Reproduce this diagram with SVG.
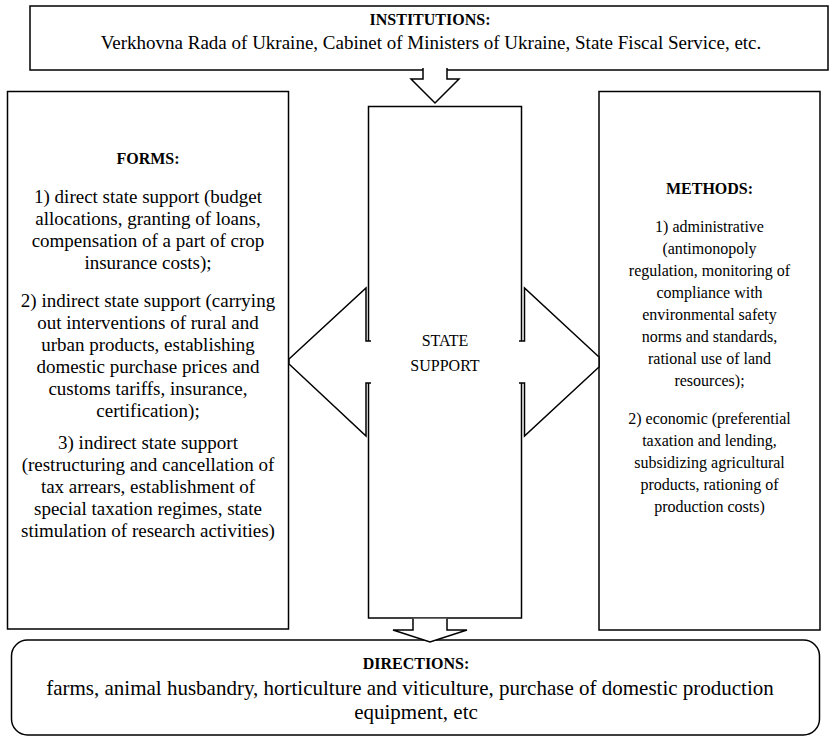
<svg xmlns="http://www.w3.org/2000/svg" width="832" height="738" viewBox="0 0 832 738">
<style>
.box{fill:#fff;stroke:#000;stroke-width:1.5}
.arr{fill:#fff;stroke:#000;stroke-width:1.5;stroke-linejoin:miter}
text{font-family:"Liberation Serif","Times New Roman",serif;fill:#000;text-anchor:middle}
.t16{font-size:16px}
.t19{font-size:19px}
.t21{font-size:21px}
.b{font-weight:bold}
</style>
<rect width="832" height="738" fill="#fff"/>
<g id="institutions">
<rect class="box" x="30" y="6" width="798" height="64"/>
<text class="t16 b" x="430" y="25">INSTITUTIONS:</text>
<text class="t19" x="431" y="49">Verkhovna Rada of Ukraine, Cabinet of Ministers of Ukraine, State Fiscal Service, etc.</text>
</g>
<g id="forms">
<rect class="box" x="7.5" y="91.5" width="281" height="537.5"/>
<text class="t16 b" x="148" y="164">FORMS:</text>
<text class="t19"><tspan x="148" y="203">1) direct state support (budget</tspan><tspan x="148" y="225">allocations, granting of loans,</tspan><tspan x="148" y="247">compensation of a part of crop</tspan><tspan x="148" y="269">insurance costs);</tspan><tspan x="148" y="307">2) indirect state support (carrying</tspan><tspan x="148" y="329">out interventions of rural and</tspan><tspan x="148" y="351">urban products, establishing</tspan><tspan x="148" y="373">domestic purchase prices and</tspan><tspan x="148" y="395">customs tariffs, insurance,</tspan><tspan x="148" y="417">certification);</tspan><tspan x="148" y="449">3) indirect state support</tspan><tspan x="148" y="471">(restructuring and cancellation of</tspan><tspan x="148" y="493">tax arrears, establishment of</tspan><tspan x="148" y="515">special taxation regimes, state</tspan><tspan x="148" y="537">stimulation of research activities)</tspan></text>
</g>
<g id="methods">
<rect class="box" x="599" y="91.5" width="221" height="538.5"/>
<text class="t16 b" x="709.5" y="194">METHODS:</text>
<text class="t16"><tspan x="709.5" y="232">1) administrative</tspan><tspan x="709.5" y="254">(antimonopoly</tspan><tspan x="709.5" y="276">regulation, monitoring of</tspan><tspan x="709.5" y="298">compliance with</tspan><tspan x="709.5" y="320">environmental safety</tspan><tspan x="709.5" y="342">norms and standards,</tspan><tspan x="709.5" y="364">rational use of land</tspan><tspan x="709.5" y="386">resources);</tspan><tspan x="709.5" y="424">2) economic (preferential</tspan><tspan x="709.5" y="446">taxation and lending,</tspan><tspan x="709.5" y="468">subsidizing agricultural</tspan><tspan x="709.5" y="490">products, rationing of</tspan><tspan x="709.5" y="512">production costs)</tspan></text>
</g>
<g id="state-support">
<rect class="box" x="368.5" y="106.5" width="153" height="511.5"/>
<text class="t16"><tspan x="445" y="346">STATE</tspan><tspan x="445" y="371">SUPPORT</tspan></text>
</g>
<g id="directions">
<rect class="box" x="11.5" y="640" width="808" height="95" rx="16" ry="16"/>
<text class="t16 b" x="416" y="669">DIRECTIONS:</text>
<text class="t21"><tspan x="410" y="695">farms, animal husbandry, horticulture and viticulture, purchase of domestic production</tspan><tspan x="416" y="719">equipment, etc</tspan></text>
</g>
<g id="connectors">
<path class="arr" d="M423,68 L423,79 L411,79 L435,103 L459,79 L447,79 L447,68"/>
<path class="arr" d="M371,341 L366,341 L366,288 L289,359 L289,364 L366,436 L366,383 L371,383"/>
<path class="arr" d="M519,341 L524.5,341 L524.5,288 L599,357 L599,367 L524.5,436 L524.5,383 L519,383"/>
<path class="arr" d="M413,618.75 L413,630 L393,630 L430,642 L467,630 L447,630 L447,618.75"/>
</g>
</svg>
